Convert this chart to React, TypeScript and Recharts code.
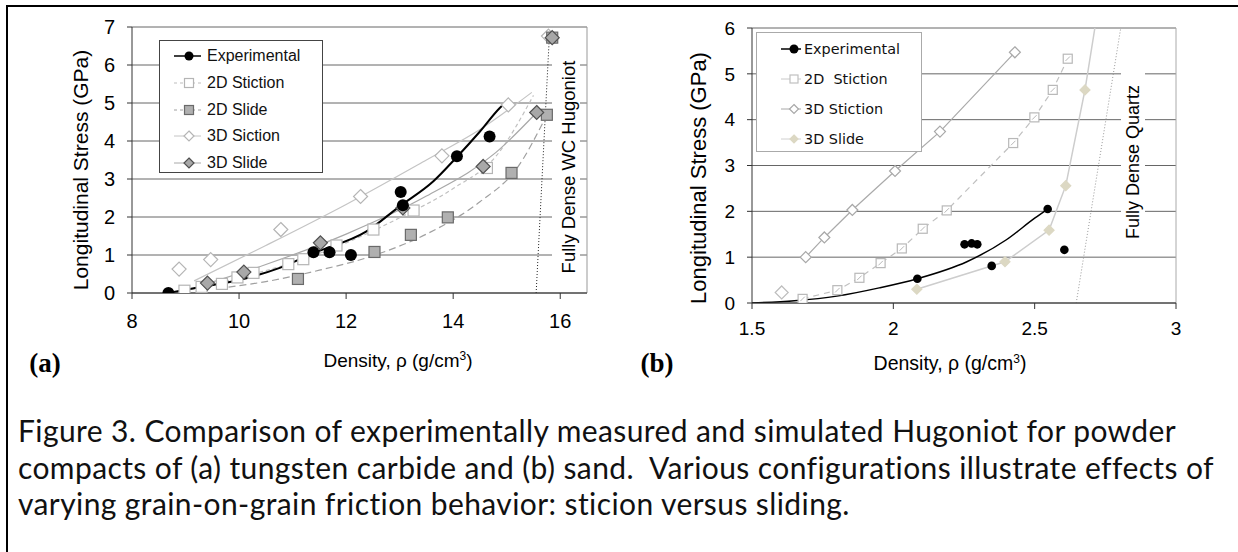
import React from "react";
import { ComposedChart, Line, Scatter, XAxis, YAxis, CartesianGrid, ReferenceLine } from "recharts";

const SANS = "'Liberation Sans', Arial, Helvetica, sans-serif";
const VERDANA = "'DejaVu Sans', Verdana, sans-serif";
const SERIF = "'Liberation Serif', 'Times New Roman', serif";

// ---------- (a) tungsten carbide ----------
const wcTicksX = [8, 10, 12, 14, 16];
const wcTicksY = [0, 1, 2, 3, 4, 5, 6, 7];

const wcExpX = [8.68, 11.39, 11.69, 12.09, 13.02, 13.06, 14.07, 14.68];
const wcExpY = [0, 1.07, 1.07, 1.0, 2.66, 2.31, 3.6, 4.12];
const wcExpFitX = [8.68, 9.33, 10.02, 10.76, 11.39, 12.38, 13.0, 13.63, 14.07, 14.5, 14.87, 15.0];
const wcExpFitY = [0, 0.17, 0.35, 0.66, 1.05, 1.62, 2.28, 2.94, 3.58, 4.25, 4.87, 5.04];

const wc2dStickX = [8.98, 9.3, 9.68, 9.97, 10.27, 10.92, 11.2, 11.82, 12.51, 13.26, 14.63];
const wc2dStickY = [0.06, 0.16, 0.24, 0.41, 0.53, 0.76, 0.89, 1.25, 1.67, 2.17, 3.29];
const wc2dStickFitX = [8.98, 10.0, 11.0, 12.0, 13.0, 14.0, 14.8, 15.5];
const wc2dStickFitY = [0.05, 0.4, 0.8, 1.32, 1.98, 2.75, 3.6, 5.2];

const wc2dSlideX = [11.1, 12.53, 13.21, 13.9, 15.09, 15.75, 15.85];
const wc2dSlideY = [0.37, 1.08, 1.53, 1.99, 3.16, 4.69, 6.72];
const wc2dSlideFitX = [9.6, 10.5, 11.5, 12.5, 13.5, 14.5, 15.2, 15.75];
const wc2dSlideFitY = [0.12, 0.3, 0.6, 0.98, 1.55, 2.4, 3.3, 4.69];

const wc3dStickX = [8.88, 9.47, 10.78, 12.27, 13.79, 15.03, 15.78];
const wc3dStickY = [0.63, 0.88, 1.67, 2.54, 3.61, 4.95, 6.76];
const wc3dStickFitX = [9.16, 10.5, 12.0, 13.5, 14.5, 15.47];
const wc3dStickFitY = [0.32, 1.25, 2.33, 3.5, 4.3, 5.28];

const wc3dSlideX = [9.41, 10.09, 11.52, 13.06, 14.56, 15.56, 15.85];
const wc3dSlideY = [0.26, 0.55, 1.32, 2.24, 3.33, 4.75, 6.72];
const wc3dSlideFitX = [9.3, 10.5, 12.0, 13.5, 14.8, 15.56];
const wc3dSlideFitY = [0.2, 0.75, 1.55, 2.55, 3.7, 4.75];

const wcHugoniotX = [15.55, 15.8];
const wcHugoniotY = [0, 6.84];

// ---------- (b) sand ----------
const sandTicksX = [1.5, 2, 2.5, 3];
const sandTicksY = [0, 1, 2, 3, 4, 5, 6];

const sandExpX = [2.085, 2.252, 2.277, 2.297, 2.348, 2.546, 2.605];
const sandExpY = [0.53, 1.28, 1.3, 1.28, 0.81, 2.05, 1.16];
const sandExpFitX = [1.5, 1.65, 1.8, 1.95, 2.085, 2.26, 2.4, 2.5, 2.546];
const sandExpFitY = [0, 0.05, 0.15, 0.33, 0.53, 0.9, 1.38, 1.85, 2.05];

const sand2dStickX = [1.679, 1.802, 1.88, 1.955, 2.03, 2.104, 2.189, 2.424, 2.499, 2.564, 2.617];
const sand2dStickY = [0.09, 0.28, 0.55, 0.87, 1.19, 1.62, 2.02, 3.49, 4.05, 4.65, 5.33];

const sand3dStickX = [1.69, 1.756, 1.855, 2.006, 2.165, 2.43];
const sand3dStickY = [1.0, 1.43, 2.03, 2.88, 3.74, 5.47];
const sandStrayX = [1.605];
const sandStrayY = [0.23];

const sand3dSlideX = [2.083, 2.395, 2.551, 2.61, 2.678];
const sand3dSlideY = [0.3, 0.9, 1.59, 2.56, 4.65];
const sand3dSlideLineX = [2.083, 2.395, 2.551, 2.61, 2.678, 2.713];
const sand3dSlideLineY = [0.3, 0.9, 1.59, 2.56, 4.65, 6.0];

const sandQuartzX = [2.647, 2.804];
const sandQuartzY = [0, 5.98];

const captionLines = [
  "Figure 3. Comparison of experimentally measured and simulated Hugoniot for powder",
  "compacts of (a) tungsten carbide and (b) sand.  Various configurations illustrate effects of",
  "varying grain-on-grain friction behavior: sticion versus sliding.",
];

const pts = (xs: number[], ys: number[]) => xs.map((x, i) => ({ x, y: ys[i] }));

// ---------- markers ----------
type Mk = (cx: number, cy: number) => React.ReactNode;
const circle = (r: number, fill: string): Mk => (cx, cy) => <circle cx={cx} cy={cy} r={r} fill={fill} />;
const square = (s: number, fill: string, stroke: string, slash = false): Mk => (cx, cy) => (
  <g>
    <rect x={cx - s / 2} y={cy - s / 2} width={s} height={s} fill={fill} stroke={stroke} strokeWidth={1.2} />
    {slash && <line x1={cx - s / 4} y1={cy + s / 4} x2={cx + s / 4} y2={cy - s / 4} stroke={stroke} strokeWidth={1} />}
  </g>
);
const diamond = (s: number, fill: string, stroke: string): Mk => (cx, cy) => (
  <polygon
    points={`${cx},${cy - s / 2} ${cx + s / 2},${cy} ${cx},${cy + s / 2} ${cx - s / 2},${cy}`}
    fill={fill}
    stroke={stroke}
    strokeWidth={1.2}
  />
);
const shape = (mk: Mk) => (p: any) => <g>{mk(p.cx, p.cy)}</g>;

const mkWcExp = circle(6, "#000");
const mkWc2dStick = square(11, "#fff", "#b5b5b5");
const mkWc2dSlide = square(11, "#b0b0b0", "#6a6a6a");
const mkWc3dStick = diamond(14, "#fff", "#b5b5b5");
const mkWc3dSlide = diamond(14, "#a8a8a8", "#505050");

const mkSandExp = circle(4.3, "#000");
const mkSand2dStick = square(9, "#fff", "#b8b8b8", true);
const mkSand3dStick = diamond(11, "#fff", "#a8a8a8");
const mkSand3dSlide = diamond(10, "#dcd8c3", "#dcd8c3");
const mkSandStray = diamond(13, "#fff", "#bdbdbd");

// ---------- legends ----------
interface LegendItem {
  label: string;
  stroke: string;
  dash?: string;
  width?: number;
  marker: Mk;
}

const wcLegend: LegendItem[] = [
  { label: "Experimental", stroke: "#000", width: 1.5, marker: circle(4.5, "#000") },
  { label: "2D Stiction", stroke: "#bdbdbd", dash: "3 3", marker: square(9, "#fff", "#b5b5b5") },
  { label: "2D Slide", stroke: "#a0a0a0", dash: "3 3", marker: square(9, "#b0b0b0", "#6a6a6a") },
  { label: "3D Siction", stroke: "#c4c4c4", marker: diamond(10, "#fff", "#b5b5b5") },
  { label: "3D Slide", stroke: "#a8a8a8", marker: diamond(10, "#a8a8a8", "#505050") },
];

const sandLegend: LegendItem[] = [
  { label: "Experimental", stroke: "#000", width: 1.5, marker: circle(4.5, "#000") },
  { label: "2D  Stiction", stroke: "#c8c8c8", marker: square(8, "#fff", "#c0c0c0") },
  { label: "3D Stiction", stroke: "#a8a8a8", marker: diamond(9, "#fff", "#a8a8a8") },
  { label: "3D Slide", stroke: "#d0d0d0", marker: diamond(8, "#dcd8c3", "#dcd8c3") },
];

function LegendBox(props: {
  items: LegendItem[];
  left: number;
  top: number;
  width: number;
  height: number;
  border: string;
  font: string;
  size: number;
  first: number;
  gap: number;
  lineFrom: number;
  lineTo: number;
  markerX: number;
  textX: number;
}) {
  const p = props;
  return (
    <div
      style={{
        position: "absolute",
        left: p.left,
        top: p.top,
        width: p.width,
        height: p.height,
        border: `1px solid ${p.border}`,
        background: "#fff",
        boxSizing: "border-box",
      }}
    >
      {p.items.map((it, i) => (
        <div key={it.label} style={{ position: "absolute", left: 0, top: p.first + i * p.gap - 13, height: 26, width: "100%" }}>
          <svg width={p.textX} height={26} style={{ position: "absolute", left: 0, top: 0 }}>
            <line x1={p.lineFrom} x2={p.lineTo} y1={13} y2={13} stroke={it.stroke} strokeWidth={it.width ?? 1} strokeDasharray={it.dash} />
            {it.marker(p.markerX, 13)}
          </svg>
          <span
            style={{
              position: "absolute",
              left: p.textX,
              top: 0,
              lineHeight: "26px",
              fontFamily: p.font,
              fontSize: p.size,
              whiteSpace: "pre",
              color: "#111",
            }}
          >
            {it.label}
          </span>
        </div>
      ))}
    </div>
  );
}

// ---------- chart (a) ----------
function ChartA() {
  const tick = { fill: "#000", fontSize: 20, fontFamily: SANS };
  return (
    <ComposedChart width={640} height={420} margin={{ top: 27, right: 53, bottom: 97, left: 0 }}>
      <CartesianGrid vertical={false} stroke="#666" />
      <XAxis
        dataKey="x"
        type="number"
        domain={[8, 16.5]}
        ticks={wcTicksX}
        allowDataOverflow
        height={30}
        tickSize={6}
        tickMargin={15}
        stroke="#333"
        tick={tick}
        label={() => (
          <g>
            <text x={398} y={367} textAnchor="middle" fontSize={19} fontFamily={SANS} fill="#000">
              Density, ρ (g/cm<tspan dy={-7} fontSize={12}>3</tspan>
              <tspan dy={7}>)</tspan>
            </text>
            <text x={45} y={372} textAnchor="middle" fontSize={27} fontWeight="bold" fontFamily={SERIF} fill="#000">
              (a)
            </text>
          </g>
        )}
      />
      <YAxis
        dataKey="y"
        type="number"
        domain={[0, 7]}
        ticks={wcTicksY}
        allowDataOverflow
        width={132}
        tickSize={5}
        tickMargin={12}
        stroke="#333"
        tick={tick}
        label={() => (
          <text
            x={80}
            y={170}
            transform="rotate(-90 80 170)"
            textAnchor="middle"
            dominantBaseline="central"
            fontSize={21}
            fontFamily={SANS}
            fill="#000"
          >
            Longitudinal Stress (GPa)
          </text>
        )}
      />
      <ReferenceLine x={16.5} stroke="#999" />
      <ReferenceLine
        segment={pts(wcHugoniotX, wcHugoniotY)}
        stroke="#222"
        strokeDasharray="1 2"
        label={() => (
          <g>
            <rect x={552} y={55} width={28} height={230} fill="#fff" />
            <text
              x={568}
              y={167}
              transform="rotate(-90 568 167)"
              textAnchor="middle"
              dominantBaseline="central"
              fontSize={18.5}
              fontFamily={SANS}
              fill="#000"
            >
              Fully Dense WC Hugoniot
            </text>
          </g>
        )}
      />
      <Line data={pts(wc2dStickFitX, wc2dStickFitY)} dataKey="y" type="monotone" stroke="#c0c0c0" strokeWidth={1.2} strokeDasharray="4 3" dot={false} activeDot={false} isAnimationActive={false} />
      <Line data={pts(wc2dSlideFitX, wc2dSlideFitY)} dataKey="y" type="monotone" stroke="#a0a0a0" strokeWidth={1.2} strokeDasharray="7 4" dot={false} activeDot={false} isAnimationActive={false} />
      <Line data={pts(wc3dStickFitX, wc3dStickFitY)} dataKey="y" type="monotone" stroke="#c4c4c4" strokeWidth={1.2} dot={false} activeDot={false} isAnimationActive={false} />
      <Line data={pts(wc3dSlideFitX, wc3dSlideFitY)} dataKey="y" type="monotone" stroke="#a8a8a8" strokeWidth={1.2} dot={false} activeDot={false} isAnimationActive={false} />
      <Line data={pts(wcExpFitX, wcExpFitY)} dataKey="y" type="monotone" stroke="#000" strokeWidth={2} dot={false} activeDot={false} isAnimationActive={false} />
      <Scatter data={pts(wc2dStickX, wc2dStickY)} dataKey="y" shape={shape(mkWc2dStick)} isAnimationActive={false} />
      <Scatter data={pts(wc3dStickX, wc3dStickY)} dataKey="y" shape={shape(mkWc3dStick)} isAnimationActive={false} />
      <Scatter data={pts(wc2dSlideX, wc2dSlideY)} dataKey="y" shape={shape(mkWc2dSlide)} isAnimationActive={false} />
      <Scatter data={pts(wc3dSlideX, wc3dSlideY)} dataKey="y" shape={shape(mkWc3dSlide)} isAnimationActive={false} />
      <Scatter data={pts(wcExpX, wcExpY)} dataKey="y" shape={shape(mkWcExp)} isAnimationActive={false} />
    </ComposedChart>
  );
}

// ---------- chart (b) ----------
function ChartB() {
  const tick = { fill: "#000", fontSize: 19, fontFamily: SANS };
  return (
    <ComposedChart width={618} height={420} margin={{ top: 28, right: 62, bottom: 87, left: 0 }}>
      <CartesianGrid vertical={false} stroke="#666" />
      <XAxis
        dataKey="x"
        type="number"
        domain={[1.5, 3]}
        ticks={sandTicksX}
        allowDataOverflow
        height={30}
        tickSize={6}
        tickMargin={13}
        stroke="#333"
        tick={tick}
        label={() => (
          <g>
            <text x={330} y={370} textAnchor="middle" fontSize={19.5} fontFamily={SANS} fill="#000">
              Density, ρ (g/cm<tspan dy={-7} fontSize={12}>3</tspan>
              <tspan dy={7}>)</tspan>
            </text>
            <text x={37} y={372} textAnchor="middle" fontSize={27} fontWeight="bold" fontFamily={SERIF} fill="#000">
              (b)
            </text>
          </g>
        )}
      />
      <YAxis
        dataKey="y"
        type="number"
        domain={[0, 6]}
        ticks={sandTicksY}
        allowDataOverflow
        width={132}
        tickSize={5}
        tickMargin={12}
        stroke="#333"
        tick={tick}
        label={() => (
          <text
            x={78}
            y={178}
            transform="rotate(-90 78 178)"
            textAnchor="middle"
            dominantBaseline="central"
            fontSize={22}
            fontFamily={SANS}
            fill="#000"
          >
            Longitudinal Stress (GPa)
          </text>
        )}
      />
      <ReferenceLine x={3} stroke="#aaa" />
      <ReferenceLine
        segment={pts(sandQuartzX, sandQuartzY)}
        stroke="#999"
        strokeDasharray="1 2"
        label={() => (
          <g>
            <rect x={501} y={62} width={24} height={193} fill="#fff" />
            <text
              x={513}
              y={162}
              transform="rotate(-90 513 162)"
              textAnchor="middle"
              dominantBaseline="central"
              fontSize={18}
              fontFamily={SANS}
              fill="#000"
            >
              Fully Dense Quartz
            </text>
          </g>
        )}
      />
      <Line data={pts(sand2dStickX, sand2dStickY)} dataKey="y" type="linear" stroke="#c0c0c0" strokeWidth={1.2} strokeDasharray="6 5" dot={false} activeDot={false} isAnimationActive={false} />
      <Line data={pts(sand3dStickX, sand3dStickY)} dataKey="y" type="linear" stroke="#aaa" strokeWidth={1.2} dot={false} activeDot={false} isAnimationActive={false} />
      <Line data={pts(sand3dSlideLineX, sand3dSlideLineY)} dataKey="y" type="linear" stroke="#cdcdcd" strokeWidth={1.5} dot={false} activeDot={false} isAnimationActive={false} />
      <Line data={pts(sandExpFitX, sandExpFitY)} dataKey="y" type="monotone" stroke="#000" strokeWidth={1.5} dot={false} activeDot={false} isAnimationActive={false} />
      <Scatter data={pts(sand2dStickX, sand2dStickY)} dataKey="y" shape={shape(mkSand2dStick)} isAnimationActive={false} />
      <Scatter data={pts(sand3dStickX, sand3dStickY)} dataKey="y" shape={shape(mkSand3dStick)} isAnimationActive={false} />
      <Scatter data={pts(sandStrayX, sandStrayY)} dataKey="y" shape={shape(mkSandStray)} isAnimationActive={false} />
      <Scatter data={pts(sand3dSlideX, sand3dSlideY)} dataKey="y" shape={shape(mkSand3dSlide)} isAnimationActive={false} />
      <Scatter data={pts(sandExpX, sandExpY)} dataKey="y" shape={shape(mkSandExp)} isAnimationActive={false} />
    </ComposedChart>
  );
}

export default function App() {
  return (
    <div style={{ position: "fixed", left: 0, top: 0, width: 1238, height: 552, overflow: "hidden", background: "#fff" }}>
      <div style={{ position: "absolute", left: 6, top: 5, width: 1300, height: 620, border: "2px solid #000" }} />
      <div style={{ position: "absolute", left: 0, top: 0 }}>
        <ChartA />
      </div>
      <div style={{ position: "absolute", left: 620, top: 0 }}>
        <ChartB />
      </div>
      <LegendBox
        items={wcLegend}
        left={159}
        top={40}
        width={164}
        height={133}
        border="#444"
        font={SANS}
        size={16}
        first={15}
        gap={26.75}
        lineFrom={14}
        lineTo={41}
        markerX={29}
        textX={47}
      />
      <LegendBox
        items={sandLegend}
        left={756}
        top={32}
        width={166}
        height={120}
        border="#aaa"
        font={VERDANA}
        size={14.4}
        first={16}
        gap={30}
        lineFrom={24}
        lineTo={44}
        markerX={37}
        textX={47}
      />
      <div
        style={{
          position: "absolute",
          left: 18,
          top: 412,
          fontFamily: "Lato, 'Open Sans', sans-serif",
          fontSize: 30,
          letterSpacing: 0.4,
          lineHeight: "36.5px",
          color: "#111",
        }}
      >
        {captionLines.map((l) => (
          <div key={l} style={{ whiteSpace: "pre" }}>
            {l}
          </div>
        ))}
      </div>
    </div>
  );
}
